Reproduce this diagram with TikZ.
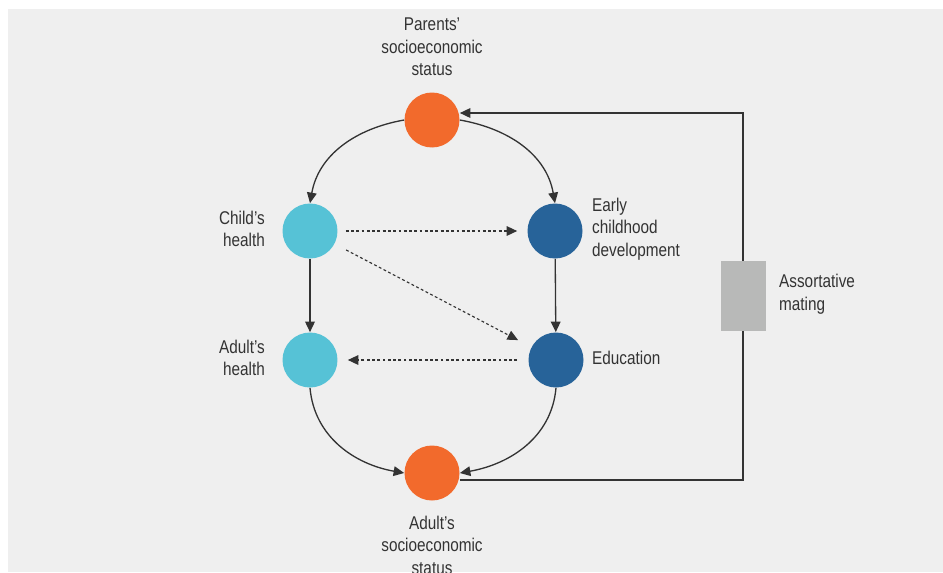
\documentclass[tikz,border=0pt]{standalone}
\usepackage{fontspec}
\setmainfont{Liberation Sans}[FakeStretch=0.83]
\usetikzlibrary{arrows.meta}

\definecolor{bgcol}{HTML}{EFEFEF}
\definecolor{sesorange}{HTML}{F26A2C}
\definecolor{healthblue}{HTML}{56C2D6}
\definecolor{devblue}{HTML}{276399}
\definecolor{matinggray}{HTML}{B8B9B8}
\definecolor{linecol}{HTML}{333333}

\tikzset{
  circ/.style={circle, minimum size=1.1cm, inner sep=0pt},
  lbl/.style={text=linecol, font=\fontsize{10.5}{12.8}\selectfont},
  arr/.style={-{Triangle[length=6pt,width=5.5pt]}, draw=linecol, line width=0.75pt},
  dotarr/.style={arr, line width=0.65pt, dash pattern=on 1.6pt off 1.4pt}
}

\begin{document}
\begin{tikzpicture}[x=0.02cm,y=-0.02cm]
                \useasboundingbox (0,0) rectangle (943,572);
                \fill[bgcol] (8,9) rectangle (943,572);

                % Define node positions
                \node[circ, fill=sesorange] (ps) at (432,120) {};
                \node[circ, fill=healthblue] (ch) at (310,231) {};
                \node[circ, fill=devblue] (ec) at (555,231) {};
                \node[circ, fill=healthblue] (ah) at (310,360) {};
                \node[circ, fill=devblue] (ed) at (556,360) {};
                \node[circ, fill=sesorange] (as) at (432,473) {};
                \node[fill=matinggray, minimum width=0.9cm, minimum height=1.4cm, inner sep=0pt] (am) at (743,296) {};

                % Labels
                \node[lbl, align=right, anchor=east] (chl) at (271,229) {Child’s\\health};
                \node[lbl, align=center] (psl) at (432,47) {Parents’\\socioeconomic\\status};
                \node[lbl, align=left, anchor=west] (ecl) at (586,229) {Early\\childhood\\development};
                \node[lbl, align=right, anchor=east] (ahl) at (271,358) {Adult’s\\health};
                \node[lbl, anchor=west] (edl) at (586,358) {Education};
                \node[lbl, align=left, anchor=west] (aml) at (773,294) {Assortative\\mating};
                \node[lbl, align=center] (asl) at (432,545) {Adult’s\\socioeconomic\\status};

                % Draw arrows
                \draw[arr] (ps.west) to[out=190, in=80] (ch.north);
                \draw[arr] (ps.east) to[out=-10, in=100] (ec.north);
                \draw[arr] (ch) -- (ah);
                \draw[arr] (ec) -- (ed);
                \draw[arr] (ah.south) to[out=-85, in=170] (as.west);
                \draw[arr] (ed.south) to[out=-95, in=10] (as.east);

                % Dotted links
                \draw[dotarr, shorten <=0.16cm, shorten >=0.2cm] (ch) -- (ec);
                \draw[dotarr, shorten <=0.26cm, shorten >=0.3cm] (ch) -- (ed);
                \draw[dotarr, shorten <=0.22cm, shorten >=0.2cm] (ed) -- (ah);

                % Assortative mating loop
                \draw[arr] (am.north) |- ([yshift=0.14cm]ps.east);
                \draw[draw=linecol, line width=0.75pt] ([yshift=-0.14cm]as.east) -| (am.south);
            \end{tikzpicture}
\end{document}
